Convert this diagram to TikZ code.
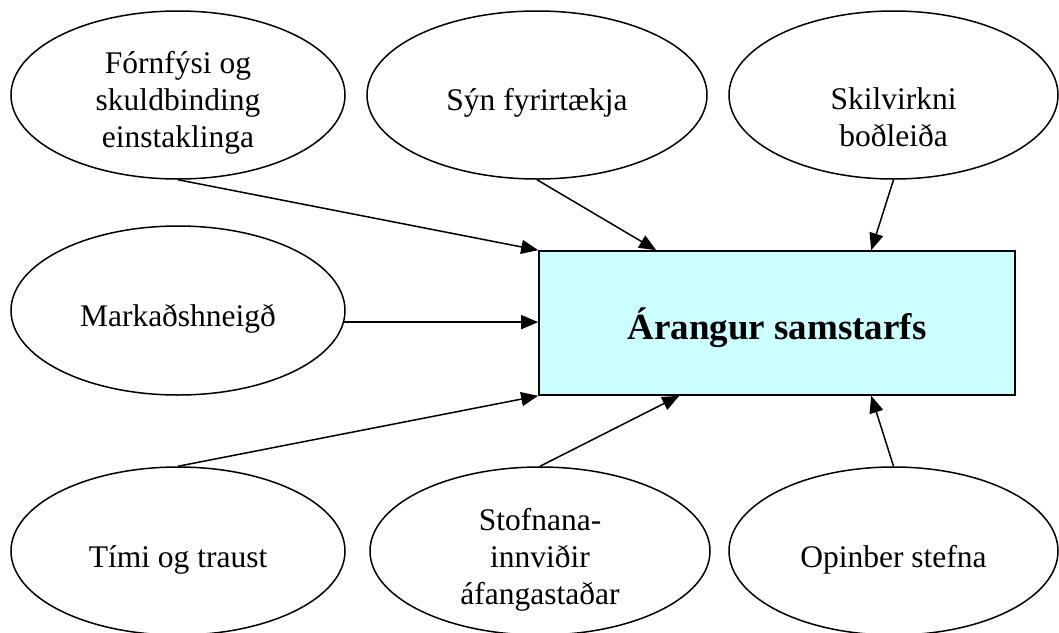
\documentclass[tikz,border=0pt]{standalone}
\usepackage{fontspec}
\setmainfont{Liberation Serif}
\usetikzlibrary{arrows.meta,shapes.geometric}
\definecolor{boxfill}{HTML}{CCFFFF}
\newcommand{\dnbox}[2]{\raisebox{-#1}[\height][\depth]{\begin{tabular}{@{}c@{}}#2\end{tabular}}}
\begin{document}
\begin{tikzpicture}[x=1pt,y=-1pt,
  oval/.style={ellipse, draw, line width=1.5pt, inner sep=0pt, minimum height=168pt,
    font=\fontsize{31.5}{37}\selectfont},
  goal/.style={rectangle, draw, line width=1.6pt, fill=boxfill, minimum width=476pt,
    minimum height=144pt, inner sep=0pt, font=\fontsize{37}{43}\selectfont\bfseries},
  arr/.style={-{Triangle[length=17pt,width=14pt]}, line width=1.5pt}]
\useasboundingbox (0,0) rectangle (1059,632);
\clip (0,0) rectangle (1059,632);
\node[oval, minimum width=334pt] (fo) at (178,95) {\dnbox{7.6pt}{Fórnfýsi og\\skuldbinding\\einstaklinga}};
\node[oval, minimum width=340pt] (syn) at (537,95) {\dnbox{7.6pt}{Sýn fyrirtækja}};
\node[oval, minimum width=329pt] (sk) at (893.5,95) {\dnbox{26pt}{Skilvirkni\\boðleiða}};
\node[oval, minimum width=334pt, minimum height=169pt] (ma) at (178,310.5) {\dnbox{9pt}{Markaðshneigð}};
\node[oval, minimum width=334pt] (ti) at (178,551) {\dnbox{8.6pt}{Tími og traust}};
\node[oval, minimum width=340pt] (st) at (540,551) {\dnbox{8.6pt}{Stofnana-\\innviðir\\áfangastaðar}};
\node[oval, minimum width=329pt] (op) at (893.5,551) {\dnbox{8.6pt}{Opinber stefna}};
\node[goal] (ar) at (777,323) {\raisebox{-4.5pt}[\height][\depth]{Árangur samstarfs}};
\draw[arr] (fo.south) -- (ar.north west);
\draw[arr] (syn.south) -- ([xshift=118pt]ar.north west);
\draw[arr] (sk.south) -- ([xshift=333pt]ar.north west);
\draw[arr] (ma.-4.3) -- (ma.-4.3 -| ar.west);
\draw[arr] (ti.north) -- (ar.south west);
\draw[arr] (st.north) -- ([xshift=141pt]ar.south west);
\draw[arr] (op.north) -- ([xshift=333pt]ar.south west);
\end{tikzpicture}
\end{document}
